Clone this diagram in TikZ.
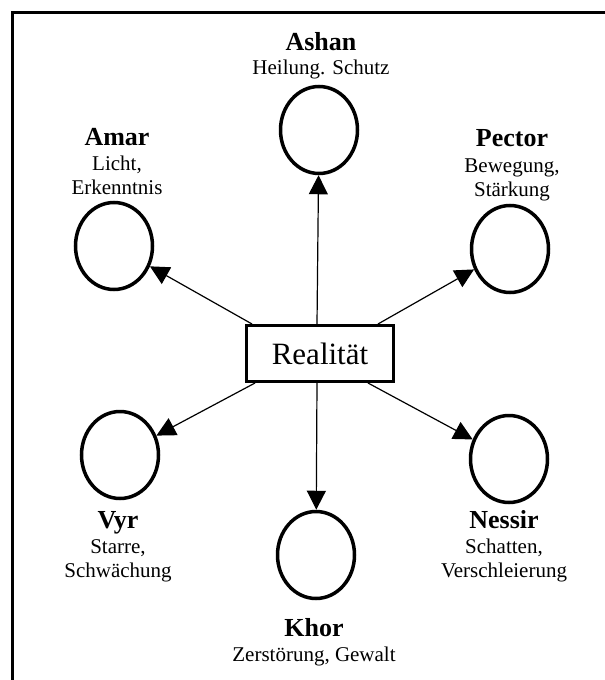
\documentclass[tikz,border=0pt]{standalone}
\usepackage{fontspec}
\setmainfont{Liberation Serif}
\usetikzlibrary{arrows.meta,shapes.geometric}
\begin{document}
\begin{tikzpicture}[x=1pt,y=-1pt,
  circ/.style={draw,line width=3.5pt,ellipse,inner sep=0pt,minimum width=77pt,minimum height=87pt},
  arr/.style={line width=1.2pt,-{Triangle[length=19pt,width=19pt]}},
  nm/.style={anchor=base,inner sep=0pt,font=\fontsize{26}{28}\selectfont\bfseries},
  ds/.style={anchor=base,inner sep=0pt,font=\fontsize{21}{24}\selectfont},
  realbox/.style={draw,line width=3.2pt,inner sep=0pt,minimum width=147pt,minimum height=56pt,font=\fontsize{31}{34}\selectfont}]
\useasboundingbox (0,0) rectangle (605,680);
% frame
\draw[line width=3.5pt,line join=miter] (12.5,680) -- (12.5,12.5) -- (605,12.5);
% centre
\node[realbox] (real) at (320,353.5) {Realität};
% ellipses
\node[circ] (ashan) at (319,130) {};
\node[circ] (amar) at (114,246) {};
\node[circ] (pector) at (510,249) {};
\node[circ] (vyr) at (120,455) {};
\node[circ] (nessir) at (509,459) {};
\node[circ] (khor) at (316,555) {};
% labels
\node[nm] (ashanN) at (321,50) {Ashan};
\node[ds] (ashanD) at (321,74) {Heilung. Schutz};
\node[nm] (amarN) at (117,145) {Amar};
\node[ds] (amarD1) at (117,170) {Licht,};
\node[ds] (amarD2) at (117,194) {Erkenntnis};
\node[nm] (pectorN) at (512,146) {Pector};
\node[ds] (pectorD1) at (512,172) {Bewegung,};
\node[ds] (pectorD2) at (512,196) {Stärkung};
\node[nm] (vyrN) at (118,528) {Vyr};
\node[ds] (vyrD1) at (118,553) {Starre,};
\node[ds] (vyrD2) at (118,577) {Schwächung};
\node[nm] (nessirN) at (504,528) {Nessir};
\node[ds] (nessirD1) at (504,553) {Schatten,};
\node[ds] (nessirD2) at (504,577) {Verschleierung};
\node[nm] (khorN) at (314,636) {Khor};
\node[ds] (khorD) at (314,661) {Zerstörung, Gewalt};
% start points on the box
\coordinate (sN) at (317,324);
\coordinate (sS) at (317,383);
\coordinate (sNW) at (252,324);
\coordinate (sNE) at (378,324);
\coordinate (sSW) at (255,383);
\coordinate (sSE) at (368,383);
% arrows
\draw[arr] (sN) -- (ashan);
\draw[arr] (sS) -- (khor);
\draw[arr] (sNW) -- (amar);
\draw[arr] (sNE) -- (pector);
\draw[arr] (sSW) -- (vyr);
\draw[arr] (sSE) -- (nessir);
\end{tikzpicture}
\end{document}
